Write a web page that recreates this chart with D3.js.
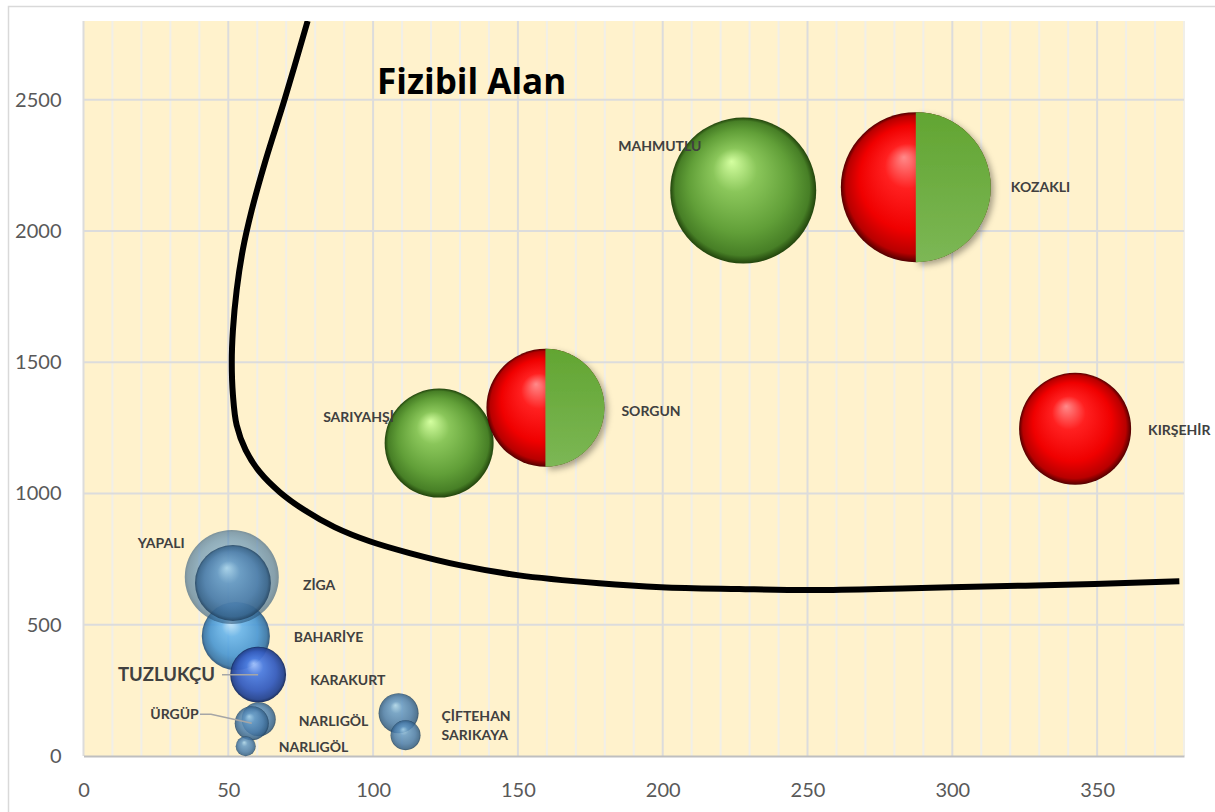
<!DOCTYPE html>
<html>
<head>
<meta charset="utf-8">
<script src="https://d3js.org/d3.v7.min.js"></script>
<style>
  body { margin: 0; background: #ffffff; }
  svg { display: block; font-family: Lato, "Open Sans", sans-serif; }
</style>
</head>
<body>
<script>
// datos de las burbujas
var nombres   = ["BAHARİYE", "YAPALI", "ZİGA", "KARAKURT", "NARLIGÖL", "ÜRGÜP", "NARLIGÖL", "ÇİFTEHAN", "SARIKAYA", "SARIYAHŞİ", "SORGUN", "MAHMUTLU", "KOZAKLI", "KIRŞEHİR"];
var valoresX  = [52.6, 51.2, 51.6, 60.3, 60.5, 58.1, 56, 108.8, 111.2, 122.8, 159.5, 227.8, 287.4, 342.4];
var valoresY  = [457, 682, 659, 310, 140, 125, 37, 163, 79, 1192, 1327, 2154, 2167, 1247];
var tamanios  = [11.6, 22.1, 14.4, 7.8, 2.9, 2.9, 1.0, 4.0, 2.25, 29.7, 34.8, 53.3, 56.25, 31.4];
var grupos    = ["azulClaro", "azulGris", "azul", "azulRey", "azul", "azul", "azul", "azul", "azul", "verde", "rojo", "verde", "rojo", "rojo"];
var mitadVerde = [false, false, false, false, false, false, false, false, false, false, true, false, true, false];

// curva de fizibilidad
var curvaX = [77.4, 69.5, 62.9, 58.1, 55, 52.9, 51.6, 51.2, 51.6, 52.9, 56, 60.9, 67.8, 76.4, 86.7, 98.8, 112.6, 129.8, 149.8, 178.1, 199.5, 226.4, 249.8, 274.7, 299.5, 349.1, 378.4];
var curvaY = [2800, 2503, 2270, 2080, 1928, 1776, 1623, 1501, 1375, 1260, 1165, 1081, 1005, 936, 872, 818, 773, 727, 689, 658, 643, 636, 632, 636, 643, 655, 666];

var ticksX = [0, 50, 100, 150, 200, 250, 300, 350];
var ticksY = [0, 500, 1000, 1500, 2000, 2500];
var ticksMenoresX = d3.range(0, 381, 10);

var titulo = "Fizibil Alan";

// posicion de etiquetas (dx, dy desde el centro de la burbuja)
var etiquetas = {
  "BAHARİYE": [58, 1, "start"],
  "YAPALI": [-94, -34, "start"],
  "ZİGA": [70, 2, "start"],
  "KARAKURT": [52, 5, "start"],
  "NARLIGÖL": [40, 2, "start"],
  "ÜRGÜP": [-53, -9, "end"],
  "NARLIGÖL2": [33, 1, "start"],
  "ÇİFTEHAN": [43, 3, "start"],
  "SARIKAYA": [36, 0, "start"],
  "SARIYAHŞİ": [-116, -26, "start"],
  "SORGUN": [76, 3, "start"],
  "MAHMUTLU": [-125, -44, "start"],
  "KOZAKLI": [95, 0, "start"],
  "KIRŞEHİR": [73, 1, "start"]
};

var width = 1215, height = 812;
var margin = { top: 21, bottom: 56, left: 83.5, right: 31 };

var svg = d3.select("body").append("svg")
  .attr("width", width)
  .attr("height", height);

var defs = svg.append("defs");

// gradientes tipo esfera
var colores = {
  verde:     ["#d4ffa0", "#8ac65a", "#619f38", "#477f26", "#22440c"],
  rojo:      ["#ff8a8a", "#ff2020", "#f00000", "#b80000", "#520000"],
  azul:      ["#a8d4ec", "#6499c4", "#4a7caa", "#35628a", "#1f3f5c"],
  azulClaro: ["#c4e8ff", "#62b2ec", "#4293d2", "#2f70a6", "#1b4670"],
  azulGris:  ["#a8d2ea", "#6399c4", "#4e84b0", "#3d6e98", "#2a5478"],
  azulRey:   ["#a4c4ff", "#4c7ce0", "#355cbe", "#254492", "#122656"]
};
Object.keys(colores).forEach(function (k) {
  var g = defs.append("radialGradient")
    .attr("id", "g-" + k)
    .attr("cx", "50%").attr("cy", "50%").attr("r", "50%")
    .attr("fx", "42%").attr("fy", "30%");
  var offs = [0, 0.3, 0.7, 0.92, 1];
  colores[k].forEach(function (c, i) {
    g.append("stop").attr("offset", offs[i]).attr("stop-color", c);
  });
});

var gradMitad = defs.append("linearGradient")
  .attr("id", "g-mitad").attr("x1", 0).attr("y1", 0).attr("x2", 0).attr("y2", 1);
gradMitad.append("stop").attr("offset", 0).attr("stop-color", "#62a532");
gradMitad.append("stop").attr("offset", 1).attr("stop-color", "#7cb755");

var sombra = defs.append("filter").attr("id", "sombra")
  .attr("x", "-20%").attr("y", "-20%").attr("width", "150%").attr("height", "150%");
sombra.append("feDropShadow")
  .attr("dx", 3).attr("dy", 3).attr("stdDeviation", 3)
  .attr("flood-color", "#000").attr("flood-opacity", 0.35);

defs.append("clipPath").attr("id", "clip")
  .append("rect")
  .attr("x", margin.left).attr("y", margin.top)
  .attr("width", width - margin.right - margin.left)
  .attr("height", height - margin.bottom - margin.top);

// borde del grafico
svg.append("rect")
  .attr("x", 8.5).attr("y", 6.5)
  .attr("width", 1300).attr("height", 900)
  .attr("fill", "none")
  .attr("stroke", "#d9d9d9")
  .attr("stroke-width", 1.5);

// escalas
var escalaX = d3.scaleLinear().domain([0, 380]).range([margin.left, width - margin.right]);
var escalaY = d3.scaleLinear().domain([0, 2800]).range([height - margin.bottom, margin.top]);
var escalaR = d3.scaleSqrt().domain([0, 56.25]).range([0, 75]);

// fondo
svg.append("rect")
  .attr("x", margin.left).attr("y", margin.top)
  .attr("width", escalaX(380) - margin.left)
  .attr("height", escalaY(0) - margin.top)
  .attr("fill", "#fff2cc");

// rejilla menor
svg.append("g").selectAll("line")
  .data(ticksMenoresX.filter(function (d) { return d % 50 != 0; }))
  .join("line")
  .attr("x1", function (d) { return escalaX(d); })
  .attr("x2", function (d) { return escalaX(d); })
  .attr("y1", margin.top).attr("y2", escalaY(0))
  .attr("stroke", "#f1efe8").attr("stroke-width", 2);

// rejilla mayor
svg.append("g").selectAll("line")
  .data(ticksX.concat([380]))
  .join("line")
  .attr("x1", function (d) { return escalaX(d); })
  .attr("x2", function (d) { return escalaX(d); })
  .attr("y1", margin.top).attr("y2", escalaY(0))
  .attr("stroke", function (d) { return d == 380 ? "#f1efe8" : "#dcdcdc"; })
  .attr("stroke-width", 2);

svg.append("g").selectAll("line")
  .data(ticksY.filter(function (d) { return d > 0; }))
  .join("line")
  .attr("x1", margin.left).attr("x2", escalaX(380))
  .attr("y1", function (d) { return escalaY(d); })
  .attr("y2", function (d) { return escalaY(d); })
  .attr("stroke", "#dcdcdc").attr("stroke-width", 2);

// ejes
var ejeX = d3.axisBottom(escalaX).tickValues(ticksX).tickSize(0).tickPadding(27).tickFormat(d3.format("d"));
var gx = svg.append("g")
  .attr("transform", "translate(0," + escalaY(0) + ")")
  .call(ejeX);
gx.select(".domain").attr("stroke", "#bfbfbf").attr("stroke-width", 2);
gx.selectAll("text").attr("fill", "#595959").style("font-size", "20px").style("font-family", "Lato");

var ejeY = d3.axisLeft(escalaY).tickValues(ticksY).tickSize(0).tickPadding(22).tickFormat(d3.format("d"));
var gy = svg.append("g")
  .attr("transform", "translate(" + margin.left + ",0)")
  .call(ejeY);
gy.select(".domain").remove();
gy.selectAll("text").attr("fill", "#595959").style("font-size", "20px").style("font-family", "Lato");

// curva
var linea = d3.line()
  .x(function (d) { return escalaX(d[0]); })
  .y(function (d) { return escalaY(d[1]); })
  .curve(d3.curveCatmullRom.alpha(0.5));

svg.append("path")
  .datum(d3.zip(curvaX, curvaY))
  .attr("clip-path", "url(#clip)")
  .attr("d", linea)
  .attr("fill", "none")
  .attr("stroke", "#000")
  .attr("stroke-width", 6)
  .attr("stroke-linejoin", "round");

svg.append("text")
  .attr("x", 377).attr("y", 94)
  .attr("font-weight", "bold")
  .style("font-size", "35px")
  .style("font-family", "'Open Sans'")
  .attr("fill", "#000")
  .text(titulo);

// burbujas
var datos = nombres.map(function (n, i) {
  return { nombre: n, x: valoresX[i], y: valoresY[i], t: tamanios[i], g: grupos[i], mitad: mitadVerde[i], i: i };
});

var opacidad = { azulGris: 0.62, azul: 0.85, azulClaro: 0.88, azulRey: 0.95, verde: 1, rojo: 1 };

var gB = svg.append("g");
gB.selectAll("circle")
  .data(datos)
  .join("circle")
  .attr("cx", function (d) { return escalaX(d.x); })
  .attr("cy", function (d) { return escalaY(d.y); })
  .attr("r", function (d) { return escalaR(d.t); })
  .attr("fill", function (d) { return "url(#g-" + d.g + ")"; })
  .attr("fill-opacity", function (d) { return opacidad[d.g]; });

// mitad verde (tipo tarta)
var arco = d3.arc().innerRadius(0).startAngle(0).endAngle(Math.PI);
gB.selectAll("path.mitad")
  .data(datos.filter(function (d) { return d.mitad; }))
  .join("path")
  .attr("class", "mitad")
  .attr("transform", function (d) { return "translate(" + escalaX(d.x) + "," + escalaY(d.y) + ")"; })
  .attr("d", function (d) { return arco({ outerRadius: escalaR(d.t) }); })
  .attr("fill", "url(#g-mitad)")
  .attr("filter", "url(#sombra)");

// lineas guia
var karakurt = datos[3], urgup = datos[5];
svg.append("line")
  .attr("x1", 222).attr("y1", escalaY(karakurt.y))
  .attr("x2", escalaX(karakurt.x)).attr("y2", escalaY(karakurt.y))
  .attr("stroke", "#a6a6a6").attr("stroke-width", 1.5);
svg.append("polyline")
  .attr("points", [[200, escalaY(urgup.y) - 9], [211, escalaY(urgup.y) - 9], [escalaX(urgup.x), escalaY(urgup.y)]].join(" "))
  .attr("fill", "none")
  .attr("stroke", "#a6a6a6").attr("stroke-width", 1.5);

// etiquetas
function clave(d) {
  return (d.nombre == "NARLIGÖL" && d.i == 6) ? "NARLIGÖL2" : d.nombre;
}
svg.append("g").selectAll("text")
  .data(datos)
  .join("text")
  .attr("x", function (d) { return escalaX(d.x) + etiquetas[clave(d)][0]; })
  .attr("y", function (d) { return escalaY(d.y) + etiquetas[clave(d)][1]; })
  .attr("text-anchor", function (d) { return etiquetas[clave(d)][2]; })
  .attr("dy", "0.35em")
  .attr("font-weight", "bold")
  .style("font-size", "14px")
  .attr("fill", "#404040")
  .text(function (d) { return d.nombre; });

svg.append("text")
  .attr("x", 118).attr("y", escalaY(karakurt.y))
  .attr("dy", "0.35em")
  .attr("font-weight", "bold")
  .style("font-size", "18.5px")
  .attr("fill", "#404040")
  .text("TUZLUKÇU");
</script>
</body>
</html>
